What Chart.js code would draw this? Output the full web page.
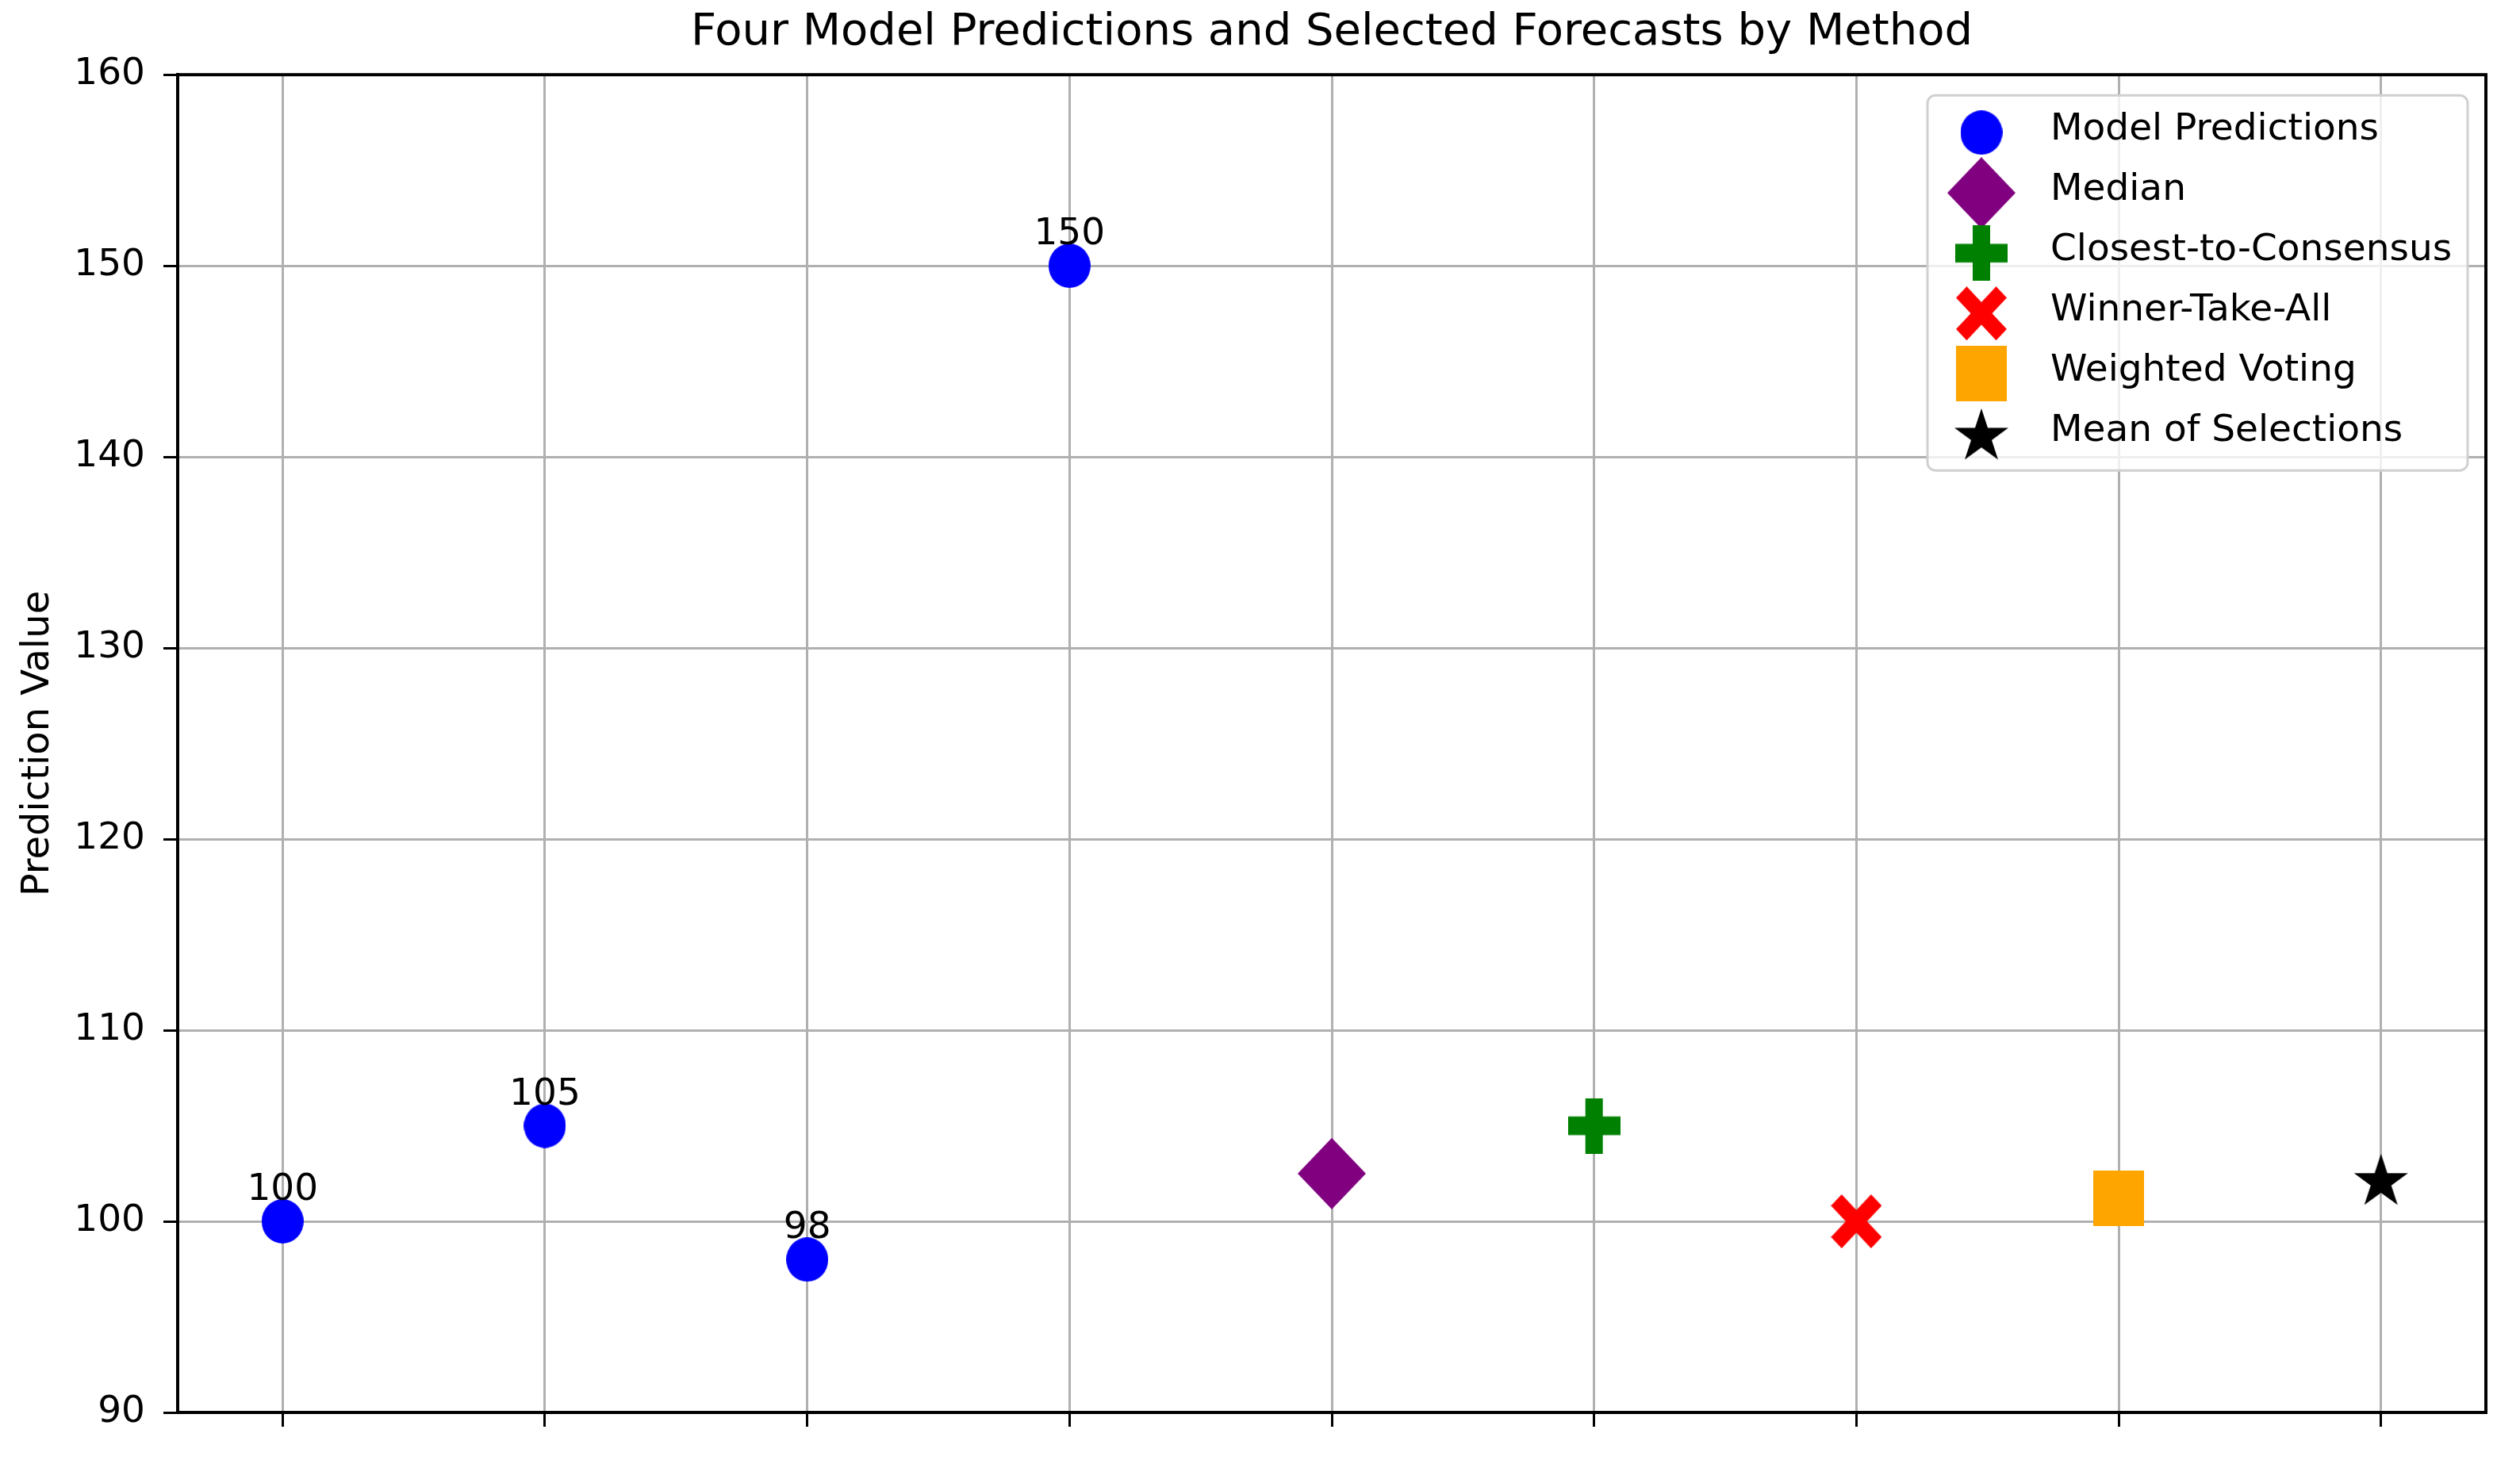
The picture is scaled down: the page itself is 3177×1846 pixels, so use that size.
<!DOCTYPE html>
<html>
<head>
<meta charset="utf-8">
<title>Four Model Predictions and Selected Forecasts by Method</title>
<script src="https://cdn.jsdelivr.net/npm/chart.js@4.4.1/dist/chart.umd.min.js"></script>
<style>
  html, body { margin: 0; padding: 0; background: #fff; }
  #chart { display: block; }
</style>
</head>
<body>
<canvas id="chart" width="3177" height="1846"></canvas>
<script>
// Data
const modelX = [0, 1, 2, 3];
const modelValues = [100, 105, 98, 150];

const methodNames = ['Median', 'Closest-to-Consensus', 'Winner-Take-All', 'Weighted Voting', 'Mean of Selections'];
const methodX = [4, 5, 6, 7, 8];
const methodValues = [102.5, 105, 100, 101.2, 102.2];

const xTicks = [0, 1, 2, 3, 4, 5, 6, 7, 8];
const yTicks = [90, 100, 110, 120, 130, 140, 150, 160];

const FONT = "'DejaVu Sans', 'Noto Sans', sans-serif";
Chart.defaults.font.family = FONT;
Chart.defaults.color = '#000';

// Build filled marker images (matplotlib style markers)
function makeMarker(shape, w, h, color) {
  const c = document.createElement('canvas');
  c.width = w;
  c.height = h;
  const g = c.getContext('2d');
  g.fillStyle = color;
  g.translate(w / 2, h / 2);
  g.beginPath();
  if (shape === 'circle') {
    g.ellipse(0, 0, w / 2, h / 2, 0, 0, Math.PI * 2);
  } else if (shape === 'diamond') {
    g.moveTo(0, -h / 2);
    g.lineTo(w / 2, 0);
    g.lineTo(0, h / 2);
    g.lineTo(-w / 2, 0);
  } else if (shape === 'square') {
    g.rect(-w / 2, -h / 2, w, h);
  } else if (shape === 'plus') {
    const a = w / 6, b = h / 6, hw = w / 2, hh = h / 2;
    const pts = [[-a, -hh], [a, -hh], [a, -b], [hw, -b], [hw, b], [a, b], [a, hh], [-a, hh], [-a, b], [-hw, b], [-hw, -b], [-a, -b]];
    pts.forEach((p, i) => i ? g.lineTo(p[0], p[1]) : g.moveTo(p[0], p[1]));
  } else if (shape === 'cross') {
    const d = 0.42, sx = w / 2, sy = h / 2;
    const pts = [[-1 + d, -1], [0, -d], [1 - d, -1], [1, -1 + d], [d, 0], [1, 1 - d], [1 - d, 1], [0, d], [-1 + d, 1], [-1, 1 - d], [-d, 0], [-1, -1 + d]];
    pts.forEach((p, i) => i ? g.lineTo(p[0] * sx, p[1] * sy) : g.moveTo(p[0] * sx, p[1] * sy));
  } else if (shape === 'star') {
    const R = w / (2 * Math.sin(Math.PI * 2 / 5));
    const r = R * 0.381966;
    const cy = (R - R * Math.cos(Math.PI / 5)) / 2;
    for (let i = 0; i < 10; i++) {
      const rad = (i % 2 === 0) ? R : r;
      const ang = -Math.PI / 2 + i * Math.PI / 5;
      const px = Math.cos(ang) * rad;
      const py = Math.sin(ang) * rad + cy;
      i ? g.lineTo(px, py) : g.moveTo(px, py);
    }
  }
  g.closePath();
  g.fill();
  return c;
}

const markers = [
  makeMarker('circle', 53, 56, '#0000ff'),
  makeMarker('diamond', 86, 90, '#800080'),
  makeMarker('plus', 66, 70, '#008000'),
  makeMarker('cross', 64, 68, '#ff0000'),
  makeMarker('square', 64, 70, '#ffa500'),
  makeMarker('star', 68, 66, '#000000')
];

const datasets = [{
  label: 'Model Predictions',
  data: modelX.map((x, i) => ({ x: x, y: modelValues[i] })),
  pointStyle: markers[0],
  pointRadius: 27
}];
methodNames.forEach((name, i) => {
  datasets.push({
    label: name,
    data: [{ x: methodX[i], y: methodValues[i] }],
    pointStyle: markers[i + 1],
    pointRadius: 30
  });
});

// Top and right spines
const framePlugin = {
  id: 'frame',
  beforeDatasetsDraw(chart) {
    const { ctx, chartArea: a } = chart;
    ctx.save();
    ctx.strokeStyle = '#000';
    ctx.lineWidth = 4;
    ctx.strokeRect(a.left, a.top, a.right - a.left, a.bottom - a.top);
    ctx.restore();
  }
};

// Value labels above the model predictions, then legend box in the upper right
const overlay = {
  id: 'overlay',
  afterDraw(chart) {
    const { ctx, chartArea: a } = chart;
    const meta = chart.getDatasetMeta(0);
    ctx.save();
    ctx.font = '47px ' + FONT;
    ctx.fillStyle = '#000';
    ctx.textAlign = 'center';
    ctx.textBaseline = 'alphabetic';
    meta.data.forEach((pt, i) => {
      ctx.fillText(String(modelValues[i]), pt.x, pt.y - 27);
    });

    const w = 681, h = 473;
    const left = a.right - 23 - w;
    const top = a.top + 26;
    ctx.beginPath();
    ctx.roundRect(left, top, w, h, 10);
    ctx.fillStyle = 'rgba(255,255,255,0.8)';
    ctx.fill();
    ctx.strokeStyle = '#d0d0d0';
    ctx.lineWidth = 3;
    ctx.stroke();
    ctx.fillStyle = '#000';
    ctx.textAlign = 'left';
    ctx.textBaseline = 'middle';
    chart.data.datasets.forEach((ds, i) => {
      const y = top + 47 + i * 76;
      const m = ds.pointStyle;
      ctx.drawImage(m, left + 68 - m.width / 2, y - m.height / 2);
      ctx.fillText(ds.label, left + 155, y - 3);
    });
    ctx.restore();
  }
};

const gridStyle = { color: '#b0b0b0', lineWidth: 3, tickColor: '#000', tickLength: 18, tickWidth: 3 };

new Chart(document.getElementById('chart').getContext('2d'), {
  type: 'scatter',
  data: { datasets: datasets },
  options: {
    responsive: false,
    animation: false,
    devicePixelRatio: 1,
    layout: { padding: { left: 0, right: 43, top: 0, bottom: 0 } },
    plugins: {
      legend: { display: false },
      tooltip: { enabled: false },
      title: {
        display: true,
        fullSize: false,
        text: 'Four Model Predictions and Selected Forecasts by Method',
        font: { size: 56, weight: 'normal' },
        color: '#000',
        padding: { top: 8, bottom: 19 }
      }
    },
    scales: {
      x: {
        type: 'linear',
        z: 1,
        min: -0.4,
        max: 8.4,
        afterBuildTicks: (axis) => { axis.ticks = xTicks.map(v => ({ value: v })); },
        afterFit: (scale) => { scale.height = 65; },
        ticks: { display: false, autoSkip: false },
        grid: gridStyle,
        border: { color: '#000', width: 4 }
      },
      y: {
        z: 1,
        min: 90,
        max: 160,
        afterBuildTicks: (axis) => { axis.ticks = yTicks.map(v => ({ value: v })); },
        afterFit: (scale) => { scale.width = 224; },
        ticks: { font: { size: 47 }, color: '#000', padding: 23, autoSkip: false },
        grid: gridStyle,
        border: { color: '#000', width: 4 },
        title: {
          display: true,
          text: 'Prediction Value',
          font: { size: 48 },
          color: '#000',
          padding: { top: 20, bottom: 0 }
        }
      }
    }
  },
  plugins: [framePlugin, overlay]
});
</script>
</body>
</html>
